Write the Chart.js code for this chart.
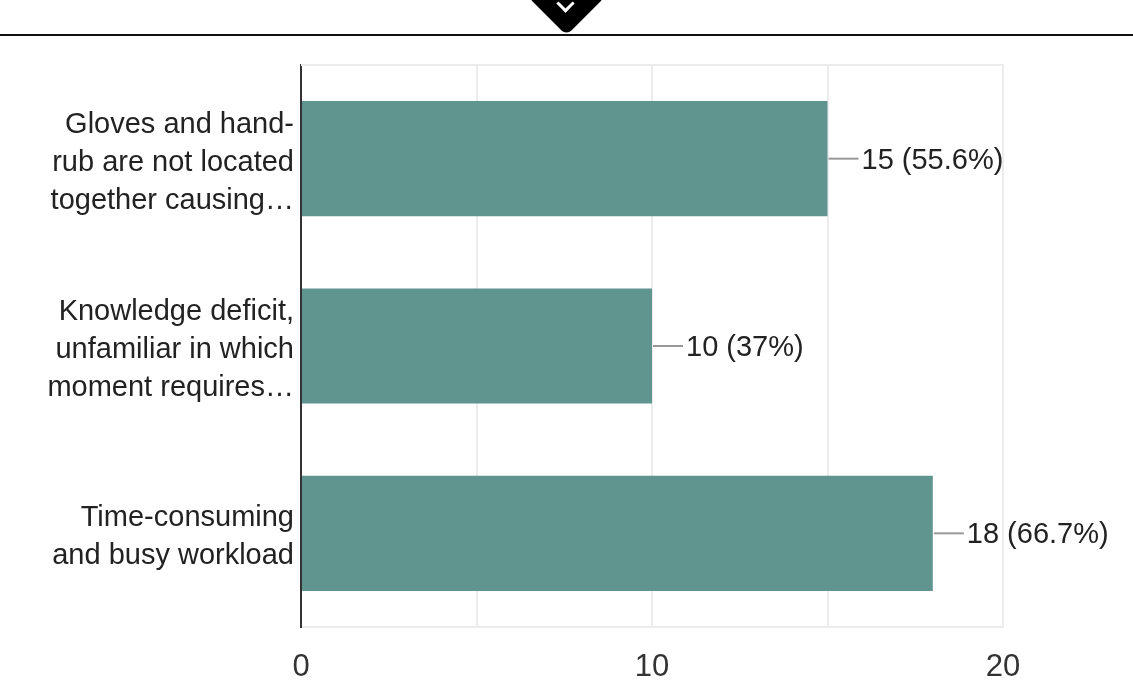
<!DOCTYPE html>
<html>
<head>
<meta charset="utf-8">
<script src="https://cdn.jsdelivr.net/npm/chart.js@4"></script>
<style>
    html, body { margin: 0; padding: 0; background: #fff; overflow: hidden; }
    #wrap { position: relative; width: 1133px; height: 685px; }
    #topRule { position: absolute; left: 0; top: 34px; width: 1133px; height: 2px; background: #111; }
    #badge {
        position: absolute; left: 539px; top: -31px; width: 55px; height: 55px;
        background: #000; border-radius: 7px; transform: rotate(45deg);
    }
    #badgeIcon {
        position: absolute; left: 559px; top: -3px; width: 10px; height: 10px;
        border-left: 3px solid #fff; border-top: 3px solid #fff; transform: rotate(225deg);
    }
</style>
</head>
<body>
<div id="wrap">
    <canvas id="chart" width="1133" height="685"></canvas>
    <div id="topRule"></div>
    <div id="badge"></div>
    <div id="badgeIcon"></div>
</div>
<script>
const categories = [
    ["Gloves and hand-", "rub are not located", "together causing…"],
    ["Knowledge deficit,", "unfamiliar in which", "moment requires…"],
    ["Time-consuming", "and busy workload"],
];
const counts = [15, 10, 18];
const percentLabels = ["55.6%", "37%", "66.7%"];
const xTicks = [0, 5, 10, 15, 20];

const barColor = "#5f948f";
const textColor = "#222222";
const fontFamily = '"Liberation Sans", Arial, sans-serif';
const tickFamily = '"Liberation Sans Narrow", "Liberation Sans", sans-serif';

// gray leader line + "n (p%)" to the right of each bar
const valueLabels = {
    id: "valueLabels",
    afterDatasetsDraw(chart) {
        const ctx = chart.ctx;
        const meta = chart.getDatasetMeta(0);
        ctx.save();
        ctx.font = "29px " + fontFamily;
        ctx.fillStyle = textColor;
        ctx.textBaseline = "middle";
        ctx.textAlign = "left";
        meta.data.forEach((bar, i) => {
            const x = bar.x;
            const y = bar.y;
            ctx.strokeStyle = "#999";
            ctx.lineWidth = 2;
            ctx.beginPath();
            ctx.moveTo(x + 1, y);
            ctx.lineTo(x + 31, y);
            ctx.stroke();
            ctx.fillText(counts[i] + " (" + percentLabels[i] + ")", x + 34, y + 2);
        });
        ctx.restore();
    },
};

// light frame line along the top of the plot area
const topFrame = {
    id: "topFrame",
    beforeDatasetsDraw(chart) {
        const { ctx, chartArea } = chart;
        ctx.save();
        ctx.strokeStyle = "#ececec";
        ctx.lineWidth = 2;
        ctx.beginPath();
        ctx.moveTo(chartArea.left, chartArea.top);
        ctx.lineTo(chartArea.right + 1, chartArea.top);
        ctx.stroke();
        ctx.restore();
    },
};

new Chart(document.getElementById("chart").getContext("2d"), {
    type: "bar",
    data: {
        labels: categories,
        datasets: [
            {
                data: counts,
                backgroundColor: barColor,
                borderWidth: 0,
                barPercentage: 0.615,
                categoryPercentage: 1,
            },
        ],
    },
    options: {
        indexAxis: "y",
        responsive: false,
        animation: false,
        layout: { padding: { top: 65, right: 130, bottom: 0, left: 0 } },
        plugins: {
            legend: { display: false },
            tooltip: { enabled: false },
        },
        scales: {
            x: {
                min: 0,
                max: 20,
                afterBuildTicks(scale) {
                    scale.ticks = xTicks.map((v) => ({ value: v }));
                },
                afterFit(scale) {
                    scale.height = 58;
                },
                grid: {
                    color: "#ececec",
                    lineWidth: 2,
                    drawTicks: false,
                },
                border: { color: "#ececec", width: 2 },
                ticks: {
                    padding: 22,
                    color: "#333",
                    font: { family: tickFamily, size: 31 },
                    callback: (v) => (v % 10 === 0 ? String(v) : ""),
                },
            },
            y: {
                afterFit(scale) {
                    scale.width = 301;
                    // multi-line labels would otherwise push the plot bottom up
                    scale.paddingTop = 0;
                    scale.paddingBottom = 0;
                },
                grid: { display: false, drawTicks: false },
                border: { color: "#333", width: 2 },
                ticks: {
                    padding: 7,
                    labelOffset: 4,
                    color: textColor,
                    font: { family: fontFamily, size: 29, lineHeight: 1.31 },
                },
            },
        },
    },
    plugins: [topFrame, valueLabels],
});
</script>
</body>
</html>
